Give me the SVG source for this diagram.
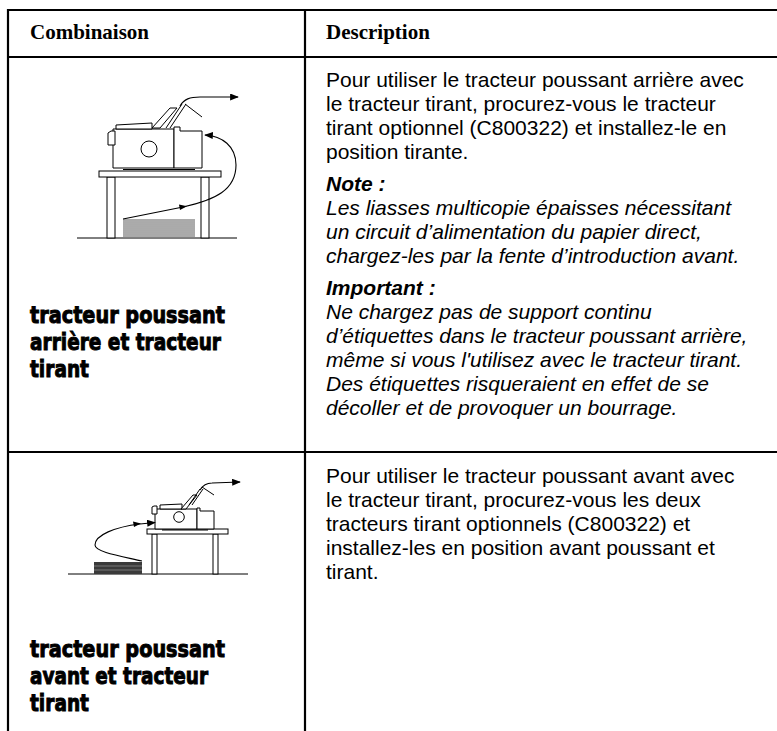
<svg xmlns="http://www.w3.org/2000/svg" width="777" height="731" viewBox="0 0 777 731">
<style>
.grid{stroke:#000;stroke-width:2.2;fill:none}
.hd{font-family:"Liberation Serif","Times New Roman",serif;font-weight:bold;font-size:21px;fill:#000}
.tx{font-family:"Liberation Sans",Arial,sans-serif;font-size:21px;fill:#000}
.it{font-style:italic}
.bi{font-style:italic;font-weight:bold}
.lab{font-family:"DejaVu Sans",sans-serif;font-weight:bold;font-size:23px;fill:#000;stroke:#000;stroke-width:1}
.ln{stroke:#000;stroke-width:1;fill:none}
.wf{stroke:#000;stroke-width:1;fill:#fff}
.fl{stroke:#000;stroke-width:1.1;fill:none}
.pp{stroke:#444;stroke-width:0.9}
</style>
<defs>
<marker id="ah" viewBox="0 0 10 8" refX="9" refY="4" markerWidth="9" markerHeight="7" markerUnits="userSpaceOnUse" orient="auto">
<path d="M0,0 L10,4 L0,8 Z" fill="#000"/>
</marker>
</defs>
<rect width="777" height="731" fill="#fff"/>

<g id="table-grid">
<line class="grid" x1="7" y1="10" x2="777" y2="10"/>
<line class="grid" x1="7" y1="57" x2="777" y2="57"/>
<line class="grid" x1="7" y1="452" x2="777" y2="452"/>
<line class="grid" x1="8" y1="9" x2="8" y2="731"/>
<line class="grid" x1="305" y1="9" x2="305" y2="731"/>
</g>

<g id="header">
<text class="hd" x="30" y="39">Combinaison</text>
<text class="hd" x="326" y="39">Description</text>
</g>

<g id="drawing-rear">
<line class="ln" x1="77" y1="238" x2="237" y2="238"/>
<g class="pp">
<line x1="123" y1="220" x2="195" y2="220"/>
<line x1="123" y1="222" x2="195" y2="222"/>
<line x1="123" y1="224" x2="195" y2="224"/>
<line x1="123" y1="226" x2="195" y2="226"/>
<line x1="123" y1="228" x2="195" y2="228"/>
<line x1="123" y1="230" x2="195" y2="230"/>
<line x1="123" y1="232" x2="195" y2="232"/>
<line x1="123" y1="234" x2="195" y2="234"/>
<line x1="123" y1="236" x2="195" y2="236"/>
</g>
<rect class="wf" x="107" y="177" width="8" height="61"/>
<rect class="wf" x="201" y="177" width="8" height="61"/>
<rect class="wf" x="99" y="171" width="122" height="6"/>
<path class="wf" d="M113,129 L174,129 L174,168 L113,168 Z"/>
<path class="wf" d="M174,127 L180,127 L180,131 L202,131 L202,168 L174,168 Z"/>
<path class="wf" d="M108,145 L108,133 L111,131 L115,131 L115,145 Z"/>
<path class="wf" d="M116,129 L116,125 L152,123 L152,129 Z"/>
<circle class="wf" cx="149" cy="149" r="8"/>
<line class="ln" x1="123" y1="169.5" x2="195" y2="169.5"/>
<path class="wf" d="M152,128 L170,108 L177,108 L160,128 Z"/>
<line class="ln" x1="166" y1="128" x2="182" y2="104"/>
<line class="ln" x1="170" y1="128" x2="186" y2="104"/>
<line class="ln" x1="185" y1="104" x2="202" y2="117"/>
</g>

<g id="drawing-front">
<line class="ln" x1="68" y1="574" x2="248" y2="574"/>
<rect x="94" y="562" width="48" height="12" fill="#3a3a3a"/>
<line x1="94" y1="566" x2="142" y2="566" stroke="#888" stroke-width="0.8"/>
<line x1="94" y1="570" x2="142" y2="570" stroke="#888" stroke-width="0.8"/>
<rect class="wf" x="152" y="534" width="5" height="40"/>
<rect class="wf" x="213" y="534" width="5" height="40"/>
<rect class="wf" x="147" y="529" width="81" height="5"/>
<path class="wf" d="M155,509 L197,509 L197,529 L155,529 Z"/>
<path class="wf" d="M197,508 L200,508 L200,511 L214,511 L214,529 L197,529 Z"/>
<path class="wf" d="M152,514 L152,507 L154,506 L157,506 L157,514 Z"/>
<path class="wf" d="M160,509 L160,505 L182,504 L182,509 Z"/>
<circle class="wf" cx="179" cy="517" r="5.3"/>
<line class="ln" x1="162" y1="530" x2="208" y2="530"/>
<path class="wf" d="M181,509 L193,495 L197,495 L186,509 Z"/>
<line class="ln" x1="189" y1="505" x2="200" y2="489"/>
<line class="ln" x1="192" y1="505" x2="203" y2="489"/>
<line class="ln" x1="202" y1="487" x2="214" y2="495"/>
</g>

<g id="connectors">
<path class="fl" d="M180,106 C184,99 190,97 200,97 L238,97" marker-end="url(#ah)"/>
<path class="fl" d="M123,219 L183,207 C215,200 236,190 236,165 C236,146 222,136 205,135" marker-end="url(#ah)"/>
<path d="M187,206.2 L179,204.5 L180,210 Z" fill="#000"/>
<path class="fl" d="M200,490 C203,485 206,483 212,483 L240,482" marker-end="url(#ah)"/>
<path class="fl" d="M142,561 C120,556 95,552 95,545 C95,535 115,527 140,524 L155,522.5" marker-end="url(#ah)"/>
<path d="M141,523.6 L133,521.5 L134,527 Z" fill="#000"/>
</g>

<g id="label-rear">
<text class="lab" x="30" y="323" textLength="195" lengthAdjust="spacingAndGlyphs">tracteur poussant</text>
<text class="lab" x="30" y="350" textLength="191" lengthAdjust="spacingAndGlyphs">arrière et tracteur</text>
<text class="lab" x="30" y="377" textLength="59" lengthAdjust="spacingAndGlyphs">tirant</text>
</g>

<g id="label-front">
<text class="lab" x="30" y="657" textLength="195" lengthAdjust="spacingAndGlyphs">tracteur poussant</text>
<text class="lab" x="30" y="684" textLength="178" lengthAdjust="spacingAndGlyphs">avant et tracteur</text>
<text class="lab" x="30" y="711" textLength="59" lengthAdjust="spacingAndGlyphs">tirant</text>
</g>

<g id="desc-rear" class="tx">
<text x="326" y="87">Pour utiliser le tracteur poussant arrière avec</text>
<text x="326" y="111">le tracteur tirant, procurez-vous le tracteur</text>
<text x="326" y="135">tirant optionnel (C800322) et installez-le en</text>
<text x="326" y="159">position tirante.</text>
<text x="326" y="191" class="bi">Note :</text>
<text x="326" y="215" class="it">Les liasses multicopie épaisses nécessitant</text>
<text x="326" y="239" class="it">un circuit d’alimentation du papier direct,</text>
<text x="326" y="263" class="it">chargez-les par la fente d’introduction avant.</text>
<text x="326" y="295" class="bi">Important :</text>
<text x="326" y="319" class="it">Ne chargez pas de support continu</text>
<text x="326" y="343" class="it">d’étiquettes dans le tracteur poussant arrière,</text>
<text x="326" y="367" class="it">même si vous l'utilisez avec le tracteur tirant.</text>
<text x="326" y="391" class="it">Des étiquettes risqueraient en effet de se</text>
<text x="326" y="415" class="it">décoller et de provoquer un bourrage.</text>
</g>

<g id="desc-front" class="tx">
<text x="326" y="483">Pour utiliser le tracteur poussant avant avec</text>
<text x="326" y="507">le tracteur tirant, procurez-vous les deux</text>
<text x="326" y="531">tracteurs tirant optionnels (C800322) et</text>
<text x="326" y="555">installez-les en position avant poussant et</text>
<text x="326" y="579">tirant.</text>
</g>
</svg>
